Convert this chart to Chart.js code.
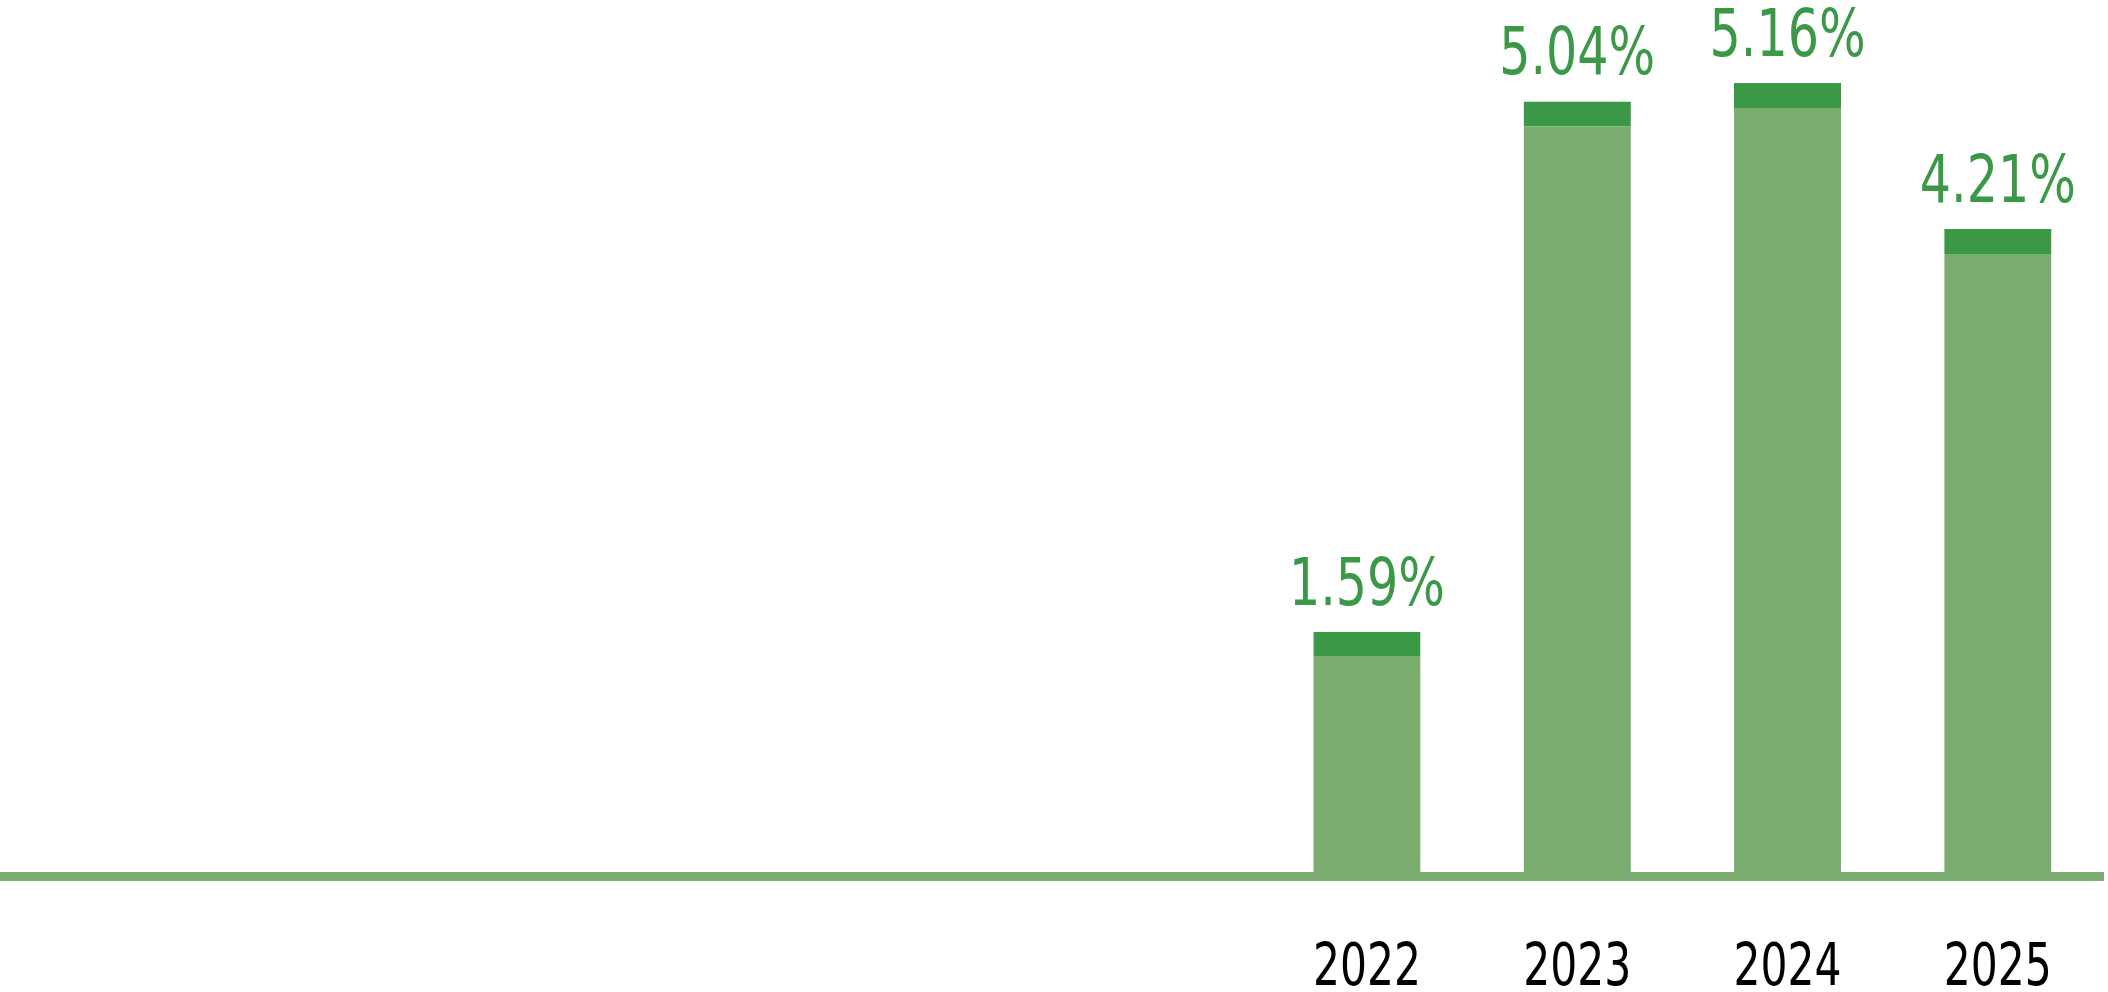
<!DOCTYPE html>
<html>
<head>
<meta charset="utf-8">
<script src="https://cdn.jsdelivr.net/npm/chart.js@4.4.1/dist/chart.umd.min.js"></script>
<style>
  html, body { margin: 0; padding: 0; background: #fff; overflow: hidden; }
  canvas { display: block; }
</style>
</head>
<body>
<canvas id="myChart" width="2108" height="992"></canvas>
<script>
const years = ['', '', '', '', '', '', '2022', '2023', '2024', '2025']
const rates = [null, null, null, null, null, null, 1.59, 5.04, 5.16, 4.21]
const rateLabels = ['', '', '', '', '', '', '1.59%', '5.04%', '5.16%', '4.21%']

const FONT = '"DejaVu Sans Condensed", "DejaVu Sans", sans-serif'
const lightGreen = '#7bac70'
const darkGreen = '#3a9846'

// draws a condensed text line centred on x
function narrowText(ctx, text, x, y, squeeze) {
  ctx.save()
  ctx.translate(x, y)
  ctx.scale(squeeze, 1)
  ctx.fillText(text, 0, 0)
  ctx.restore()
}

// value labels above bars + year labels under the axis
const textLabels = {
  id: 'textLabels',
  afterDatasetsDraw(chart) {
    const ctx = chart.ctx
    const meta = chart.getDatasetMeta(0)
    const xScale = chart.scales.x
    ctx.save()
    ctx.textAlign = 'center'
    ctx.textBaseline = 'alphabetic'

    ctx.font = '65px ' + FONT
    ctx.fillStyle = darkGreen
    meta.data.forEach((bar, i) => {
      if (rates[i] == null) return
      narrowText(ctx, rateLabels[i], bar.x, bar.y - 27, 0.84)
    })

    ctx.font = '59px ' + FONT
    ctx.fillStyle = '#000'
    years.forEach((yr, i) => {
      if (!yr) return
      narrowText(ctx, yr, xScale.getPixelForValue(i), 985, 0.8)
    })
    ctx.restore()
  },
}

const data = {
  labels: years,
  datasets: [
    {
      label: 'rate',
      data: rates,
      backgroundColor: lightGreen,
      borderColor: darkGreen,
      // dark band on top of each bar
      borderWidth: { top: 25, left: 0, right: 0, bottom: 0 },
      borderSkipped: 'start',
      categoryPercentage: 1,
      barPercentage: 0.51,
    },
  ],
}

const config = {
  type: 'bar',
  data: data,
  options: {
    responsive: false,
    animation: false,
    layout: { padding: { left: 0, right: 5, top: 0, bottom: 116 } },
    scales: {
      x: {
        grid: { display: false, drawTicks: false },
        border: { display: true, color: lightGreen, width: 9 },
        ticks: { display: false },
      },
      y: {
        display: false,
        min: 0,
        max: 5.7,
      },
    },
    plugins: {
      legend: { display: false },
      tooltip: { enabled: false },
    },
  },
  plugins: [textLabels],
}

var myChart = new Chart(document.getElementById('myChart'), config)
</script>
</body>
</html>
